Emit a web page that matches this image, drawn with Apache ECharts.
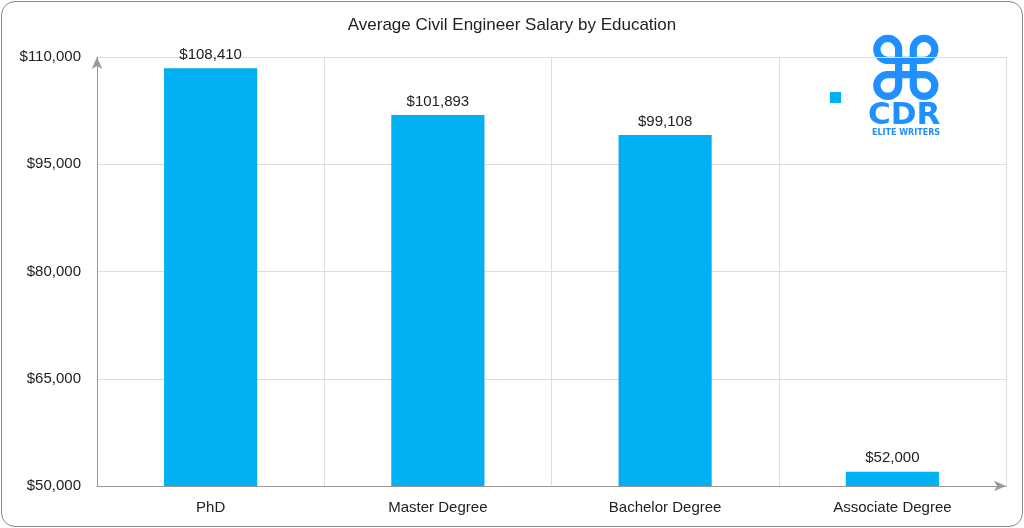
<!DOCTYPE html>
<html><head><meta charset="utf-8">
<script src="https://cdn.jsdelivr.net/npm/echarts@6/dist/echarts.min.js"></script>
<style>html,body{margin:0;padding:0;background:#fff}
#wrap{position:absolute;left:1px;top:1px;width:1020px;height:524px;border:1px solid #8a8a8a;border-radius:14px;overflow:hidden}
#c{width:1020px;height:524px}</style></head>
<body><div id="wrap"><div id="c"></div></div>
<script>
const categories = ['PhD','Master Degree','Bachelor Degree','Associate Degree'];
const salaries = [108410,101893,99108,52000];
const chart = echarts.init(document.getElementById('c'));
const font = 'Liberation Sans, Arial, sans-serif';
chart.setOption({
  animation:false,
  title:{text:'Average Civil Engineer Salary by Education',left:'center',top:10,
    textStyle:{fontFamily:font,fontSize:17,fontWeight:'normal',color:'#222'}},
  legend:{show:true,left:823,top:85,itemWidth:11,itemHeight:11,icon:'rect',data:[{name:' '}],textStyle:{fontSize:1}},
  grid:{left:95,right:16,top:55,bottom:40},
  xAxis:{type:'category',data:categories,
    axisLine:{lineStyle:{color:'#999'},symbol:['none','arrow'],symbolSize:[8,12]},
    axisTick:{show:false},
    splitLine:{show:true,lineStyle:{color:'#ddd'}},
    axisLabel:{fontFamily:font,fontSize:15,color:'#222',margin:14}},
  yAxis:{type:'value',min:50000,max:110000,interval:15000,
    axisLine:{show:true,lineStyle:{color:'#999'},symbol:['none','arrow'],symbolSize:[8,12]},
    axisTick:{show:false},
    splitLine:{lineStyle:{color:'#ddd'}},
    axisLabel:{fontFamily:font,fontSize:15,color:'#222',margin:16,
      formatter:v=>'$'+v.toLocaleString('en-US')}},
  series:[{name:' ',type:'bar',data:salaries,barWidth:'41%',
    itemStyle:{color:'#00b0f0'},
    label:{show:true,position:'top',distance:6,fontFamily:font,fontSize:15,color:'#222',
      formatter:p=>'$'+p.value.toLocaleString('en-US')}}],
  graphic:[
    {type:'text',left:864,top:33,style:{text:'⌘',font:'bold 86px DejaVu Sans',fill:'#1e90ff'}},
    {type:'text',left:866,top:98,style:{text:'CDR',font:'bold 31px DejaVu Sans',fill:'#1e90ff'}},
    {type:'text',left:870,top:127,style:{text:'ELITE WRITERS',font:'bold 8px DejaVu Sans',fill:'#1e90ff'}}
  ]
});
</script></body></html>
